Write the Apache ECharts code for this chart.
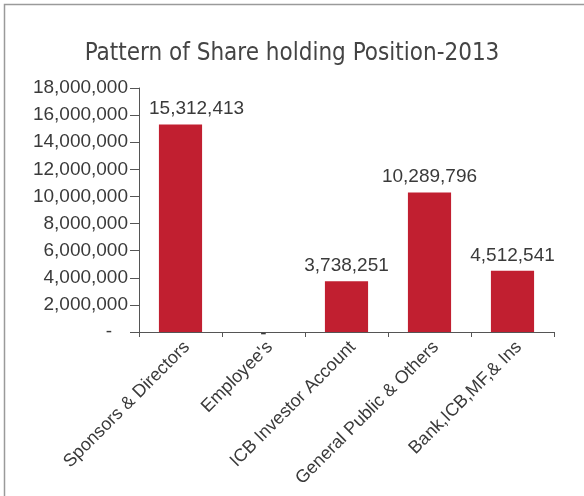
<!DOCTYPE html>
<html>
<head>
<meta charset="utf-8">
<script src="https://cdn.jsdelivr.net/npm/echarts@6/dist/echarts.min.js"></script>
<style>
  html, body { margin: 0; padding: 0; background: #fff; }
  #chart { width: 584px; height: 496px; }
</style>
</head>
<body>
<div id="chart"></div>
<script>
// 数据
var titleText = "Pattern of Share holding Position-2013";
var categories = [
  "Sponsors & Directors",
  "Employee's",
  "ICB Investor Account",
  "General Public & Others",
  "Bank,ICB,MF,& Ins"
];
var shares = [15312413, 0, 3738251, 10289796, 4512541];
var yMax = 18000000;
var yStep = 2000000;

function fmt(v) {
  if (v === 0) return "-";
  return String(v).replace(/\B(?=(\d{3})+(?!\d))/g, ",");
}

var barColor = "#c11f30";
var textColor = "#3a3a3a";
var font = "Liberation Sans";
var gridLeft = 139;

var option = {
  animation: false,
  graphic: [
    {
      type: "rect",
      shape: { x: 4.5, y: 4.5, width: 700, height: 700 },
      style: { fill: "none", stroke: "#9a9a9a", lineWidth: 1.5 },
      silent: true
    }
  ],
  title: {
    text: titleText,
    left: "center",
    top: 37,
    textStyle: {
      fontFamily: "'DejaVu Sans Condensed', 'Roboto', sans-serif",
      fontWeight: "normal",
      fontSize: 24,
      color: "#444"
    }
  },
  grid: {
    left: gridLeft,
    right: 30,
    top: 88,
    bottom: 164,
    containLabel: false,
    outerBoundsMode: "none"
  },
  xAxis: {
    type: "category",
    data: categories,
    axisLine: { lineStyle: { color: "#555", width: 1 } },
    axisTick: { show: true, length: 5, lineStyle: { color: "#555" } },
    axisLabel: {
      rotate: 45,
      interval: 0,
      margin: 6,
      verticalAlign: "top",
      fontFamily: font,
      fontSize: 18,
      color: textColor
    }
  },
  yAxis: {
    type: "value",
    min: 0,
    max: yMax,
    interval: yStep,
    axisLine: { show: true, lineStyle: { color: "#555", width: 1 } },
    axisTick: { show: true, length: 9, lineStyle: { color: "#555" } },
    splitLine: { show: false },
    axisLabel: {
      formatter: function (v) { return v === 0 ? "-   " : fmt(v); },
      margin: 11,
      fontFamily: font,
      fontSize: 19,
      color: textColor
    }
  },
  series: [
    {
      type: "bar",
      barWidth: "52%",
      itemStyle: { color: barColor },
      label: {
        show: true,
        position: "top",
        distance: 6,
        fontFamily: font,
        fontSize: 19,
        color: textColor,
        formatter: function (p) { return fmt(p.value); }
      },
      // 标签不压住y轴；0值的"-"放在轴线上
      labelLayout: function (params) {
        var r = params.labelRect;
        var out = {};
        if (r.x < gridLeft + 10) {
          out.dx = gridLeft + 10 - r.x;
        }
        if (shares[params.dataIndex] === 0) {
          out.dy = 17;
        }
        return out;
      },
      data: shares
    }
  ]
};

var myChart = echarts.init(document.getElementById("chart"));
myChart.setOption(option);
</script>
</body>
</html>
